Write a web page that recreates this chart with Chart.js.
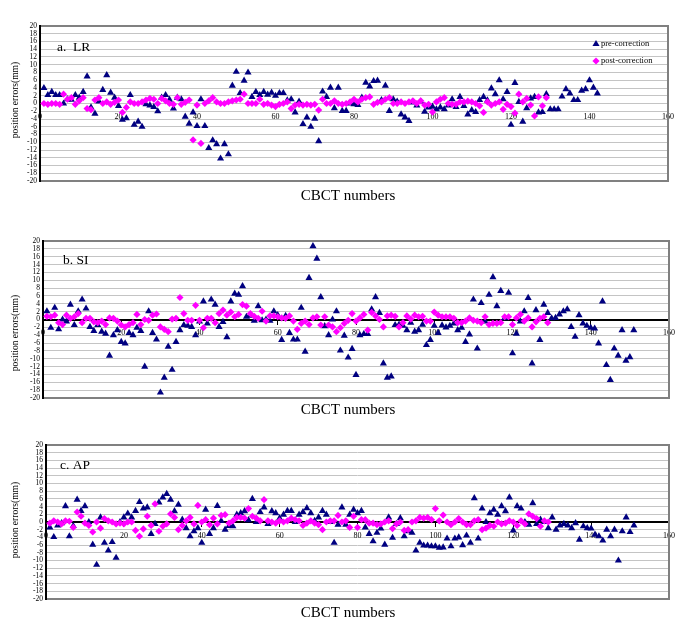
<!DOCTYPE html>
<html>
<head>
<meta charset="utf-8">
<script src="https://cdn.jsdelivr.net/npm/chart.js@4.4.0/dist/chart.umd.min.js"></script>
<style>
  body { margin: 0; background: #fff; }
  #wrap { position: relative; width: 685px; height: 632px; }
  canvas { position: absolute; left: 0; }
</style>
</head>
<body>
<div id="wrap">
  <canvas id="chartLR" width="685" height="210" style="top:0px"></canvas>
  <canvas id="chartSI" width="685" height="210" style="top:210px"></canvas>
  <canvas id="chartAP" width="685" height="212" style="top:420px"></canvas>
</div>
<script>
// position errors (mm) per CBCT number
let lrPre = [4, 2.2, 3, 2.2, 2.2, 0, 1.1, 1.0, 2.2, 1.5, 3, 7, -1, -2.6, 0.5, 3.5, 7.3, 2.8, 1.5, -0.6,
  -4.2, -3.8, 2.2, -5.5, -4.7, -6, -0.2, -0.5, -0.9, -2, 1.5, 2.2, 1, -1.3, 1.5, 1.1, -3.4, -5.2, -2.3, -5.8,
  1.1, -5.8, -11.5, -9.5, -10.5, -14.2, -10.5, -13.1, 4.6, 8.2, 2.7, 5.9, 8, 1.7, 3, 2.2, 3, 2.3, 2.8, 2,
  2.7, 2.7, 0.8, 1.1, -2.3, 0.5, -5.3, -3.6, -6, -3.9, -9.7, 3.1, 1.7, 4.1, -1.2, 4.1, -1.9, -1.9, 0, -0.2,
  -0.4, 1.5, 5.4, 4.4, 5.8, 5.9, 0.9, 4.6, -1.9, 1.1, 0.5, -2.8, -3.6, -4.5, 0.3, -0.5, 0.5, -2.1, -1, -0.8,
  -1.5, -1, -1.5, -0.5, 1.1, -0.9, 1.7, -0.6, -2.8, -1.7, -2.2, 0.9, 1.7, 0.8, 3.9, 2.4, 6, 1.1, 3, -5.5,
  5.3, 0.4, -4.7, -1.2, 1.3, 1.7, -2.3, -2.2, 2.4, -1.5, -1.5, -1.5, 1.8, 3.7, 2.6, 0.9, 0.9, 3.3, 3.7, 6,
  4.1, 2.6];
let lrPost = [0, -0.2, 0, 0, -0.2, 2.4, 1.1, 1.5, -0.2, 0.7, 1.5, -1.3, -1.6, 0.9, 1.5, 0, 0.4, -0.2, 0.3, 0.9,
  -2.3, -1, 0.4, 0, 0, 0.4, 0.9, 1.3, 1.1, 0, 1.3, 0.7, 0, -0.2, 1.5, -0.2, 0.3, 0.9, -9.4, -0.4,
  -10.3, 0, 0.7, 1.5, 0.4, 0, 0, 0.4, 0.7, 0.9, 1.1, 2.4, 0, 0, 0, 1.1, -0.2, 0, -0.4, -0.8,
  -0.2, 0, 0.4, -1.3, -0.4, -0.2, -0.4, -0.2, -0.4, -0.2, -1.7, 1.1, 0, 0, 0.7, 0, -0.2, 0, 0.4, 1.1,
  0.4, 1.1, 1.5, 1.7, -0.2, 0.3, 0.4, 1.1, 1.5, 0, 0, 0.4, 0, 0.4, 0.7, 0, 0.7, -0.4, -0.2, -2.2,
  0.4, 1.1, 1.5, 0, -0.2, -0.2, 0.4, 0.4, 0.6, 0.4, 0, -0.6, -2.3, 0.4, -0.4, 0, 0.4, -1.5, -0.2, -0.8,
  -2.5, 2.4, 0.4, 1.3, -0.4, -3.2, 1.7, -0.6, 1.5];

let siPre = [2.1, -2.1, 3, -2.5, 0, -0.5, 3.8, -1.4, 2.1, 5.1, 2.8, -1.9, -2.9, -1.4, -3.1, -3.6, -9.2, -4, -2.7, -5.7,
  -6.1, -3.4, -4, -2.1, -2.9, -12, 2.1, -3.4, -5.1, -18.6, -14.8, -6.9, -12.8, -5.7, -2.7, -1.4, -1.6, -1.9, -4, -0.5,
  4.6, -1, 5.1, 3.8, -1.9, -0.6, -4.5, 4.6, 6.6, 6.3, 8.5, 0.7, 1.0, -0.3, 3.4, -0.2, 0, -0.3, 2.1, 1.1,
  -5.2, 0.9, -3.4, -5.1, -5.1, 3, -8.2, 10.6, 18.7, 15.5, 5.7, -1.7, -4, 0, 2.1, -7.9, -4.1, -9.7, -7.5, -14.1,
  -4, -3.7, -3.7, 2.6, 5.7, 1.7, -11.2, -14.8, -14.5, -1.4, -1.3, -1.6, -2.7, -0.8, -3.1, -2.7, -1.3, -6.5, -5.2, -1.6,
  -3.4, -1.5, -2, -1.6, -1, -2.7, -2.1, -5.7, -3.8, 5.1, -7.4, 4.2, -0.5, 6.3, 10.8, 3.4, 7.3, 0.3, 6.8, -8.6,
  -3.6, -0.5, 2.1, 5.5, -11.2, 2.4, -5.2, 3.8, 1.7, 0.3, 0.4, 1.3, 2.1, 2.6, -1.9, -4.4, 1.1, -1, -1.6, -2.1,
  -2.3, -6.1, 4.6, -11.6, -15.4, -7.4, -9.2, -2.7, -10.5, -9.6, -2.7];
let siPost = [0.8, 0.7, 1.1, -0.8, -1.3, 1.1, 0.3, 0.7, 1.5, -0.8, 0.3, 0.3, -0.6, -0.8, -0.4, -1.3, 0.4, 0.3, -0.4, -1.4,
  -1.9, -1.3, -0.8, 1.3, -1.3, 0, -0.2, 1.1, 1.4, -1.9, -2.5, -3.1, 0.1, 0.3, 5.6, 1.5, -0.2, -0.2, 3.6, -0.2,
  -2.1, 0.3, 0.3, -0.8, 1.5, 2.4, 1.1, 1.9, 0.7, 1.3, 3.8, 3.4, 1.5, 0.8, 0.3, 2.1, -0.4, 0.9, 0.9, 0.7,
  0.4, 0.3, 0.9, -0.4, -2.5, -1, -0.4, -1.3, 0.4, 0.7, -1.4, 0.7, -1.4, -1.9, -3.1, -2.1, -1, -0.2, 1.5, -0.4,
  0.4, 1.3, -2.7, 1.8, 0.9, 0, -1.9, 0.9, 1.1, 0.8, -1.9, -0.8, 0.9, 0.1, 1.1, 0.7, 0.8, -0.4, -0.4, 1.9,
  1.1, 0.7, 0.7, 0.7, 0.3, -0.8, -0.8, -0.4, 0.4, -0.2, -0.4, -0.8, 0.7, -1.3, -1, -1, -0.8, 0.7, 0.7, -1.3,
  0.4, 1.3, -0.4, 0.4, -1.9, -0.6, 0.3, 0.7, -0.8];

let apPre = [-1.4, -3.9, -0.9, -0.3, 4.1, -3.7, -1, 5.8, 2.9, 4.1, 0, -5.9, -11.1, 1.2, -5.4, -7.4, -5.2, -9.3, 0, 1.2,
  2.2, 1.2, 2.9, 5.2, 3.5, 3.8, -3.1, -0.5, 5.1, 6.4, 7.3, 5.8, 2.8, 4.5, 0.6, -1.6, -3.7, -2.4, -1.6, -5.4,
  3.2, -3.1, -1.6, 4.2, 0.3, -2, -1, -1.1, 1.9, 2.3, 2.8, 0.5, 6, 0, 2.6, 3.8, -0.5, 2.8, 2.3, 1.0,
  1.9, 2.9, 2.9, 0, 1.9, 2.6, 3.6, 2.3, 0.3, 1.2, 2.9, 1.9, 0, -5.4, -0.7, 3.8, -0.7, 1.9, 3.2, 2.3,
  2.9, -1.4, -3.1, -5, -2.8, -1.7, -5.9, 1.2, -4.1, -0.5, 1, -3.7, -2.4, -2.8, -7.4, -5.4, -6.1, -6.1, -6.3, -6.3,
  -6.7, -6.6, -4.3, -6.3, -4.3, -4, -6, -3.5, -5.4, 6.2, -4.3, 3.5, 0, 2.3, 3.2, 1.9, 4.1, 2.8, 6.4, -2.2,
  4.1, 3.5, 0, -0.7, 4.9, -0.5, 0.6, 0, -1.6, 1.2, -2, -0.9, -0.5, -0.9, -1.6, -0.3, -4.6, -1.1, -1.6, -1.7,
  -3.3, -3.7, -4.8, -2, -3.7, -2, -10, -2.4, 1.2, -2.6, -0.9];
let apPost = [-0.3, 0.3, 0, -0.5, 0.3, 0.2, -1.4, 2.6, 1.5, -0.3, -0.9, -2.6, 0, -1.6, 0.9, 0.3, 0, -0.5, -0.3, -0.5,
  0, 0, -2.2, -3.7, -1.8, 1.5, -0.9, 4.7, -2.4, -1.1, -0.5, 2.1, 1.2, -2, -0.9, 0.3, 1.2, -0.5, 4.3, 0,
  0.6, -0.7, 1, -0.5, 1.7, 1.9, -0.3, 0.3, 1.2, 1.2, 1, 3.5, 1.5, 1, 0.3, 5.8, 0.3, 0, -0.3, 0.3,
  0, 0.3, 1, 0.6, 0.3, -0.9, -0.3, 0.3, -0.3, -0.7, -2, 0, 0.3, 0.3, 1.7, 0, 0.3, -1.4, 1.5, -1.4,
  0.6, 0.6, -0.3, -0.3, -0.7, -0.5, 0, 0.3, -1.7, -0.5, 0, -2.2, -2, 0, 0.3, 1.2, 1, 1.2, 0.6, 3.5,
  0.3, 1.8, 0, -0.7, 0, 0.9, 0, -0.7, -0.7, 0.3, 0.6, -2, -1.6, -0.9, -1.1, 0, -0.5, -0.3, 0.3, 0,
  -0.9, 0.3, -0.5, 2.1, 1.5, 0.9, -1.1, 0.3, 0];

let seriesNames = ['pre-correction', 'post-correction'];
let yMin = -20, yMax = 20, yStep = 2;
let xMin = 0, xMax = 160, xStep = 20;

const serif = 'Liberation Serif';
const navy = '#000080';
const magenta = '#ff00ff';

// frame, panel label, axis titles and the small legend
const decorPlugin = {
  id: 'decor',
  beforeDatasetsDraw(chart) {
    const a = chart.chartArea;
    const ctx = chart.ctx;
    ctx.save();
    ctx.strokeStyle = '#808080';
    ctx.lineWidth = 2;
    ctx.strokeRect(a.left, a.top, a.right - a.left, a.bottom - a.top);
    ctx.strokeStyle = '#000';
    ctx.beginPath();
    ctx.moveTo(a.left, a.top - 1);
    ctx.lineTo(a.left, a.bottom + 1);
    ctx.stroke();
    ctx.restore();
  },
  afterDraw(chart, args, o) {
    const a = chart.chartArea;
    const ctx = chart.ctx;
    ctx.save();
    ctx.fillStyle = '#000';
    ctx.font = '13.5px "' + serif + '"';
    ctx.textAlign = 'left';
    ctx.textBaseline = 'alphabetic';
    ctx.fillText(o.label, a.left + o.labelDx, a.top + o.labelDy);

    ctx.font = '15px "' + serif + '"';
    ctx.textAlign = 'center';
    ctx.textBaseline = 'middle';
    ctx.fillText('CBCT numbers', 348, o.xTitleY);

    ctx.save();
    ctx.translate(15, o.yTitleY);
    ctx.rotate(-Math.PI / 2);
    ctx.font = '9.5px "' + serif + '"';
    ctx.fillText('position errors(mm)', 0, 0);
    ctx.restore();

    if (o.legend) {
      const ds = chart.data.datasets;
      ctx.font = '8.5px "' + serif + '"';
      ctx.textAlign = 'left';
      for (let i = 0; i < ds.length; i++) {
        const y = 44 + i * 17;
        ctx.fillStyle = ds[i].backgroundColor;
        Chart.helpers.drawPoint(ctx, {pointStyle: ds[i].pointStyle, radius: ds[i].pointRadius, borderWidth: 0}, 596, y);
        ctx.fillStyle = '#000';
        ctx.fillText(ds[i].label, 601, y);
      }
    }
    ctx.restore();
  }
};

function toPoints(values) {
  return values.map((v, i) => ({x: i + 1, y: v}));
}

function makePanel(id, pre, post, deco, pad, yWidth, zeroLine) {
  new Chart(document.getElementById(id), {
    type: 'scatter',
    data: {
      datasets: [{
        label: seriesNames[0],
        data: toPoints(pre),
        pointStyle: 'triangle',
        pointRadius: 4.1,
        pointBorderWidth: 0,
        backgroundColor: navy,
        borderColor: navy,
        order: 1
      }, {
        label: seriesNames[1],
        data: toPoints(post),
        pointStyle: 'rectRot',
        pointRadius: 3.6,
        pointBorderWidth: 0,
        backgroundColor: magenta,
        borderColor: magenta,
        order: 0
      }]
    },
    options: {
      responsive: false,
      animation: false,
      layout: {padding: pad},
      plugins: {
        legend: {display: false},
        tooltip: {enabled: false},
        decor: deco
      },
      scales: {
        x: {
          type: 'linear',
          min: xMin,
          max: xMax,
          position: {y: 0},
          ticks: {stepSize: xStep, autoSkip: false, maxRotation: 0, padding: 5, color: '#000',
            font: {family: serif, size: 8}},
          grid: {drawOnChartArea: false, drawTicks: true, tickLength: 4,
            color: zeroLine ? '#000' : 'rgba(0,0,0,0)'},
          border: {display: zeroLine, color: '#000', width: 2}
        },
        y: {
          min: yMin,
          max: yMax,
          afterFit: (scale) => { scale.width = yWidth; },
          ticks: {stepSize: yStep, autoSkip: false, padding: 3, color: '#000',
            font: {family: serif, size: 7.5, lineHeight: 1}},
          grid: {color: '#c4c4c4', lineWidth: 1, drawTicks: false},
          border: {display: false}
        }
      }
    },
    plugins: [decorPlugin]
  });
}

makePanel('chartLR', lrPre, lrPost,
  {label: 'a.  LR', labelDx: 17, labelDy: 25, xTitleY: 196, yTitleY: 100, legend: true},
  {top: 26, bottom: 29, right: 17, left: 0}, 40, false);

makePanel('chartSI', siPre, siPost,
  {label: 'b. SI', labelDx: 20, labelDy: 23, xTitleY: 200, yTitleY: 123, legend: false},
  {top: 31, bottom: 22, right: 16, left: 0}, 43, true);

makePanel('chartAP', apPre, apPost,
  {label: 'c. AP', labelDx: 14, labelDy: 24, xTitleY: 193, yTitleY: 100, legend: false},
  {top: 25, bottom: 33, right: 16, left: 0}, 46, true);
</script>
</body>
</html>
